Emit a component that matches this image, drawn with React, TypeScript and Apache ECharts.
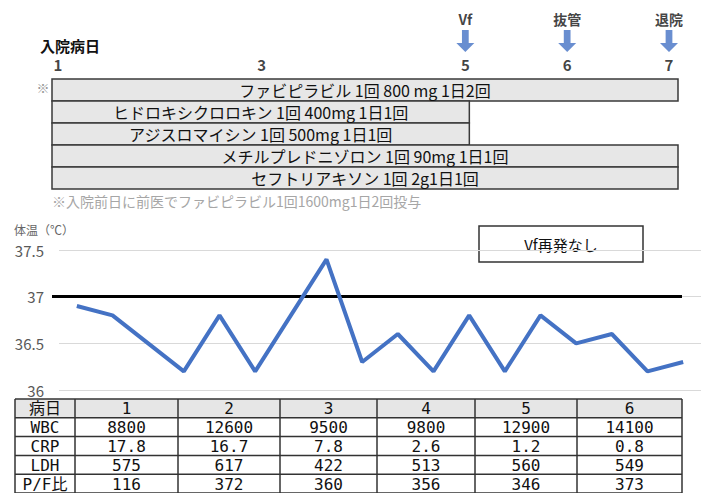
import React, { useEffect, useRef } from 'react';
import * as echarts from 'echarts';

// ---- data ----
const dayTicks = [1, 3, 5, 6, 7];
const eventDays = [5, 6, 7];
const eventLabels = ['Vf', '抜管', '退院'];

const drugNames = [
  'ファビピラビル 1回 800 mg 1日2回',
  'ヒドロキシクロロキン 1回 400mg 1日1回',
  'アジスロマイシン 1回 500mg 1日1回',
  'メチルプレドニゾロン 1回 90mg 1日1回',
  'セフトリアキソン 1回 2g1日1回',
];
const drugStart = [1, 1, 1, 1, 1];
const drugEnd = [7, 5, 5, 7, 7];

const tempSlots = [
  '1-1', '1-2', '1-3', '2-1', '2-2', '2-3', '3-1', '3-2', '3-3',
  '4-1', '4-2', '4-3', '5-1', '5-2', '5-3', '6-1', '6-2', '6-3',
];
const temperature = [
  36.9, 36.8, 36.5, 36.2, 36.8, 36.2, 36.8, 37.4, 36.3,
  36.6, 36.2, 36.8, 36.2, 36.8, 36.5, 36.6, 36.2, 36.3,
];
const normalTemp = 37;
const tempMin = 36;
const tempMax = 37.5;
const tempStep = 0.5;

const tableHeader = '病日';
const tableDays = ['1', '2', '3', '4', '5', '6'];
const tableRowLabels = ['WBC', 'CRP', 'LDH', 'P/F比'];
const wbc = ['8800', '12600', '9500', '9800', '12900', '14100'];
const crp = ['17.8', '16.7', '7.8', '2.6', '1.2', '0.8'];
const ldh = ['575', '617', '422', '513', '560', '549'];
const pf = ['116', '372', '360', '356', '346', '373'];

const noteText = '※入院前日に前医でファビピラビル1回1600mg1日2回投与';
const boxText = 'Vf再発なし';

// ---- layout/style ----
const JP = '"Noto Sans CJK JP", "Noto Sans", sans-serif';
const MONO = '"DejaVu Sans Mono", "Noto Sans CJK JP", monospace';
const BLUE = '#4472C4';
const colX = [15, 75, 178, 280, 377, 475, 577, 682];
const tableTop = 399;
const rowH = 18.8;

const arrowPath = 'path://M5,0 L11,0 L11,13 L16,13 L8,22 L0,13 L5,13 Z';

function buildTable(): any[] {
  const els: any[] = [];
  const rows = [[tableHeader, ...tableDays]];
  const vals = [wbc, crp, ldh, pf];
  tableRowLabels.forEach((l, i) => rows.push([l, ...vals[i]]));
  const nRows = rows.length;
  els.push({
    type: 'rect',
    shape: { x: colX[0], y: tableTop, width: colX[colX.length - 1] - colX[0], height: rowH },
    style: { fill: '#e6e6e6', stroke: null },
  });
  for (let r = 0; r <= nRows; r++) {
    els.push({
      type: 'line',
      shape: { x1: colX[0], y1: tableTop + r * rowH, x2: colX[colX.length - 1], y2: tableTop + r * rowH },
      style: { stroke: '#333', lineWidth: 1.5 },
    });
  }
  colX.forEach((x) => {
    els.push({
      type: 'line',
      shape: { x1: x, y1: tableTop, x2: x, y2: tableTop + nRows * rowH },
      style: { stroke: '#333', lineWidth: 1.5 },
    });
  });
  rows.forEach((row, r) => {
    row.forEach((txt, c) => {
      els.push({
        type: 'text',
        style: {
          text: txt,
          x: (colX[c] + colX[c + 1]) / 2,
          y: tableTop + r * rowH + rowH / 2 + 0.5,
          textAlign: 'center',
          textVerticalAlign: 'middle',
          font: `16px ${MONO}`,
          fill: '#111',
        },
      });
    });
  });
  return els;
}

export default function App() {
  const ref = useRef<HTMLDivElement>(null);
  useEffect(() => {
    if (!ref.current) return;
    const chart = echarts.init(ref.current, null, { renderer: 'svg' });
    const option: any = {
      animation: false,
      backgroundColor: '#fff',
      grid: [
        { left: 59, width: 642, top: 250, height: 140 },
        { left: 52, width: 626, top: 79, height: 110 },
        { left: 58, width: 611, top: 15, height: 50 },
      ],
      xAxis: [
        {
          gridIndex: 0,
          type: 'category',
          data: tempSlots,
          boundaryGap: true,
          axisLine: { show: false },
          axisTick: { show: false },
          axisLabel: { show: false },
        },
        { gridIndex: 1, type: 'value', min: 1, max: 7, show: false },
        { gridIndex: 2, type: 'value', min: 1, max: 7, show: false },
      ],
      yAxis: [
        {
          gridIndex: 0,
          type: 'value',
          min: tempMin,
          max: tempMax,
          interval: tempStep,
          axisLine: { show: false },
          axisTick: { show: false },
          axisLabel: { color: '#595959', fontSize: 15, fontFamily: JP, margin: 15 },
          splitLine: { lineStyle: { color: '#d9d9d9', width: 1.2 } },
        },
        {
          gridIndex: 1,
          type: 'category',
          data: drugNames,
          inverse: true,
          show: false,
        },
        { gridIndex: 2, type: 'value', min: 0, max: 1, show: false },
      ],
      series: [
        {
          type: 'line',
          xAxisIndex: 0,
          yAxisIndex: 0,
          data: temperature,
          showSymbol: false,
          symbol: 'none',
          lineStyle: { color: BLUE, width: 4 },
          z: 5,
          markLine: {
            silent: true,
            symbol: 'none',
            label: { show: false },
            lineStyle: { color: '#000', width: 3, type: 'solid' },
            data: [
              [
                { xAxis: 0, yAxis: normalTemp, x: 52 },
                { xAxis: tempSlots.length - 1, yAxis: normalTemp, x: 682 },
              ],
            ],
          },
        },
        {
          type: 'custom',
          xAxisIndex: 1,
          yAxisIndex: 1,
          encode: { x: [1, 2], y: 0 },
          data: drugNames.map((_, i) => [i, drugStart[i], drugEnd[i]]),
          renderItem: (params: any, api: any) => {
            const idx = api.value(0);
            const p0 = api.coord([api.value(1), idx]);
            const p1 = api.coord([api.value(2), idx]);
            const h = api.size([0, 1])[1];
            return {
              type: 'rect',
              shape: { x: p0[0], y: p0[1] - h / 2, width: p1[0] - p0[0], height: h },
              style: { fill: '#e7e7e7', stroke: '#3a3a3a', lineWidth: 1.5 },
              textContent: {
                style: { text: drugNames[idx], font: `16px ${JP}`, lineHeight: 18, fill: '#111' },
              },
              textConfig: { position: 'inside' },
            };
          },
        },
        {
          type: 'scatter',
          xAxisIndex: 2,
          yAxisIndex: 2,
          data: dayTicks.map((d) => [d, 0.02]),
          symbolSize: 1,
          itemStyle: { color: 'transparent' },
          label: {
            show: true,
            position: 'inside',
            formatter: (p: any) => String(p.value[0]),
            fontSize: 15,
            fontWeight: 'bold',
            fontFamily: JP,
            color: '#111',
          },
        },
        {
          type: 'scatter',
          xAxisIndex: 2,
          yAxisIndex: 2,
          data: eventDays.map((d) => [d, 0.48]),
          symbol: arrowPath,
          symbolSize: [18, 22],
          itemStyle: { color: BLUE },
        },
        {
          type: 'scatter',
          xAxisIndex: 2,
          yAxisIndex: 2,
          data: eventDays.map((d, i) => ({ value: [d, 0.92], name: eventLabels[i] })),
          symbolSize: 1,
          itemStyle: { color: 'transparent' },
          label: {
            show: true,
            position: 'inside',
            formatter: '{b}',
            fontSize: 14,
            fontWeight: 'bold',
            fontFamily: JP,
            color: '#111',
          },
        },
      ],
      graphic: [
        {
          type: 'group',
          z: 100,
          children: [
            {
              type: 'text',
              style: {
                text: '入院病日', x: 40, y: 45, textVerticalAlign: 'middle',
                font: `bold 15px ${JP}`, fill: '#111',
              },
            },
            {
              type: 'text',
              style: {
                text: '※', x: 43, y: 87, textAlign: 'center', textVerticalAlign: 'middle',
                font: `13px ${JP}`, fill: '#999',
              },
            },
            {
              type: 'text',
              style: {
                text: noteText, x: 52, y: 201, textVerticalAlign: 'middle',
                font: `14px ${JP}`, fill: '#a6a6a6',
              },
            },
            {
              type: 'text',
              style: {
                text: '体温（℃）', x: 14, y: 229, textVerticalAlign: 'middle',
                font: `12px ${JP}`, fill: '#666',
              },
            },
            {
              type: 'rect',
              shape: { x: 479, y: 226, width: 164, height: 36 },
              style: { fill: '#fff', stroke: '#333', lineWidth: 1.5 },
            },
            {
              type: 'text',
              style: {
                text: boxText, x: 561, y: 244, textAlign: 'center', textVerticalAlign: 'middle',
                font: `15px ${JP}`, fill: '#111',
              },
            },
            ...buildTable(),
          ],
        },
      ],
    };
    chart.setOption(option);
    return () => chart.dispose();
  }, []);
  return (
    <div
      ref={ref}
      style={{ position: 'fixed', left: 0, top: 0, width: 707, height: 493, background: '#fff' }}
    />
  );
}
